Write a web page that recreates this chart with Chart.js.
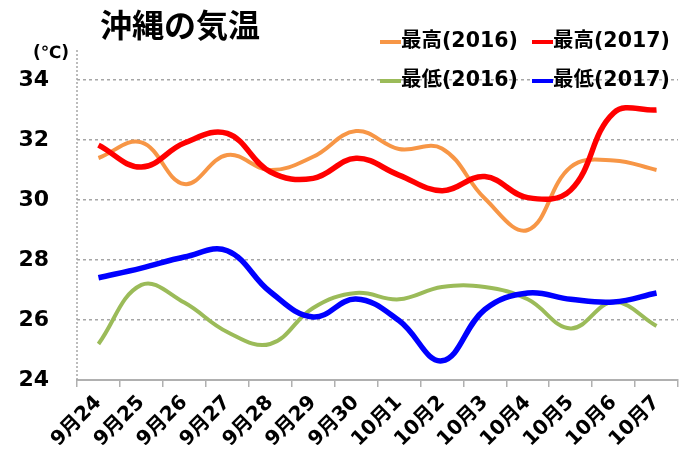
<!DOCTYPE html>
<html>
<head>
<meta charset="utf-8">
<script src="https://cdn.jsdelivr.net/npm/chart.js@4"></script>
<style>
  body { margin: 0; background: #fff; }
  #wrap { width: 700px; height: 475px; }
</style>
</head>
<body>
<div id="wrap"><canvas id="grafica" width="700" height="475"></canvas></div>
<script>
var titulo = "沖縄の気温";
var unidad = "(℃)";
var fechas = ["9月24", "9月25", "9月26", "9月27", "9月28", "9月29", "9月30",
              "10月1", "10月2", "10月3", "10月4", "10月5", "10月6", "10月7"];
var max2016 = [31.4, 31.92, 30.53, 31.5, 31.0, 31.44, 32.3, 31.7, 31.72, 30.05, 29.0, 31.1, 31.32, 31.0];
var max2017 = [31.83, 31.1, 31.9, 32.22, 30.94, 30.72, 31.39, 30.83, 30.31, 30.78, 30.08, 30.33, 32.9, 33.0];
var min2016 = [25.2, 27.17, 26.58, 25.6, 25.2, 26.4, 26.9, 26.69, 27.1, 27.1, 26.69, 25.72, 26.6, 25.8];
var min2017 = [27.41, 27.73, 28.1, 28.31, 26.94, 26.1, 26.7, 25.98, 24.64, 26.35, 26.9, 26.69, 26.6, 26.9];
var yMin = 24, yMax = 35, yPaso = 2;

var FUENTE = '"DejaVu Sans", "Noto Sans CJK JP", sans-serif';

var series = [
  { label: "最高(2016)", data: max2016, color: "#F79646", ancho: 4, orden: 3 },
  { label: "最高(2017)", data: max2017, color: "#FF0000", ancho: 5.5, orden: 1 },
  { label: "最低(2016)", data: min2016, color: "#9BBB59", ancho: 4, orden: 4 },
  { label: "最低(2017)", data: min2017, color: "#0000FF", ancho: 5.5, orden: 2 }
];

// titulo, unidad, leyenda y eje y punteado
var decoracion = {
  id: "decoracion",
  afterDraw: function (chart) {
    var ctx = chart.ctx;
    var area = chart.chartArea;
    ctx.save();
    ctx.strokeStyle = "#A6A6A6";
    ctx.lineWidth = 1.5;
    ctx.setLineDash([2, 2]);
    ctx.beginPath();
    ctx.moveTo(area.left, area.top);
    ctx.lineTo(area.left, area.bottom);
    ctx.stroke();
    ctx.setLineDash([]);

    ctx.fillStyle = "#000";
    ctx.textBaseline = "middle";
    ctx.textAlign = "center";
    ctx.font = 'bold 32px "Noto Sans CJK JP", sans-serif';
    ctx.fillText(titulo, 180, 25);

    ctx.font = "bold 17px " + FUENTE;
    ctx.fillText(unidad, 51, 54);

    var posX = [380, 532];
    var posY = [42, 81];
    ctx.textAlign = "left";
    ctx.font = "bold 20.5px " + FUENTE;
    series.forEach(function (s, i) {
      var x = posX[i % 2];
      var y = posY[Math.floor(i / 2)];
      ctx.strokeStyle = s.color;
      ctx.lineWidth = 4;
      ctx.beginPath();
      ctx.moveTo(x, y);
      ctx.lineTo(x + 21, y);
      ctx.stroke();
      ctx.fillStyle = "#000";
      ctx.fillText(s.label, x + 21, y);
    });
    ctx.restore();
  }
};

var datasets = series.map(function (s) {
  return {
    label: s.label,
    data: s.data,
    borderColor: s.color,
    borderWidth: s.ancho,
    pointRadius: 0,
    fill: false,
    tension: 0.4,
    order: s.orden
  };
});

new Chart(document.getElementById("grafica"), {
  type: "line",
  data: { labels: fechas, datasets: datasets },
  options: {
    responsive: false,
    animation: false,
    layout: { padding: { top: 50, right: 22, left: 0, bottom: 0 } },
    plugins: { legend: { display: false }, tooltip: { enabled: false } },
    scales: {
      x: {
        offset: true,
        grid: { offset: true, drawOnChartArea: false, drawTicks: true, tickLength: 7, color: "#B0B0B0", lineWidth: 1.5 },
        border: { color: "#B0B0B0", width: 2 },
        ticks: {
          minRotation: 45, maxRotation: 45, padding: 4, color: "#000",
          font: { family: FUENTE, size: 20, weight: "bold" }
        },
        afterFit: function (scale) { scale.height = 95; }
      },
      y: {
        min: yMin, max: yMax,
        grid: {
          drawTicks: false, lineWidth: 1.5,
          color: function (c) { return c.tick && c.tick.value === yMin ? "rgba(0,0,0,0)" : "#A6A6A6"; }
        },
        border: { display: false, dash: [3, 3] },
        ticks: {
          stepSize: yPaso, includeBounds: false, padding: 28, color: "#000",
          font: { family: FUENTE, size: 22, weight: "bold" }
        },
        afterFit: function (scale) { scale.width = 77; }
      }
    }
  },
  plugins: [decoracion]
});
</script>
</body>
</html>
